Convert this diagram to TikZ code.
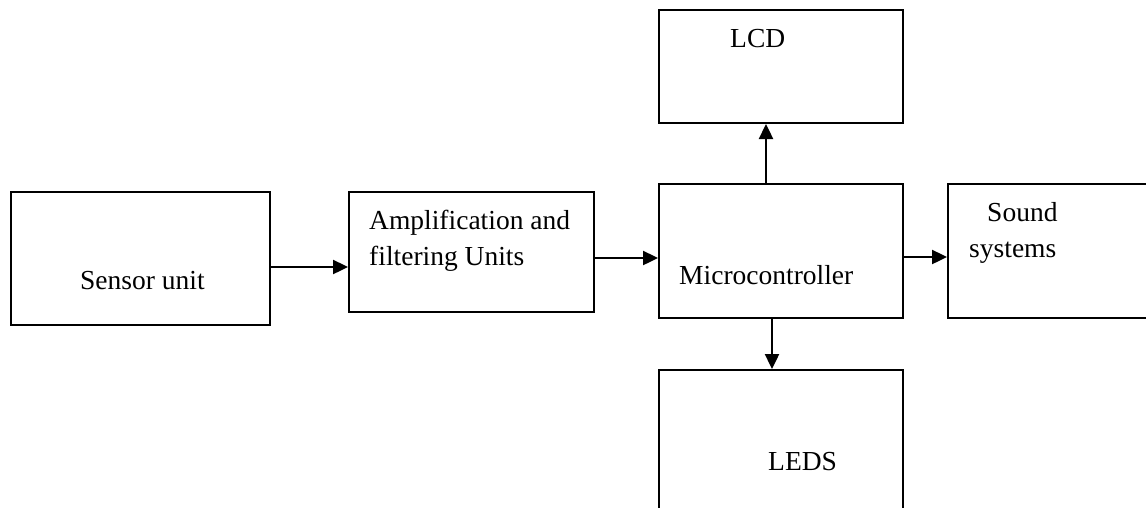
\documentclass[tikz,border=0pt]{standalone}
\usepackage{fontspec}
\setmainfont{Liberation Serif}
\usetikzlibrary{arrows.meta}
\begin{document}
\begin{tikzpicture}[x=1pt,y=-1pt,
  box/.style={draw=black, line width=2pt, rectangle, inner sep=0pt, fill=white},
  lbl/.style={anchor=base west, inner sep=0pt, font=\fontsize{27.5}{36}\selectfont},
  arr/.style={line width=2.4pt, -{Triangle[length=15pt,width=14pt]}}]
\clip (0,0) rectangle (1146,507);
\fill[white] (0,0) rectangle (1146,507);
% boxes
\node[box, minimum width=259pt, minimum height=133pt] (sensor) at (140.5,258.5) {};
\node[box, minimum width=245pt, minimum height=120pt] (amp) at (471.5,252) {};
\node[box, minimum width=244pt, minimum height=134pt] (micro) at (781,251) {};
\node[box, minimum width=244pt, minimum height=113pt] (lcd) at (781,66.5) {};
\node[box, minimum width=212pt, minimum height=134pt] (sound) at (1054,251) {};
\node[box, minimum width=244pt, minimum height=150pt] (leds) at (781,445) {};
% texts
\node[lbl] (tsensor) at (80,289) {Sensor unit};
\node[lbl] (tamp1) at (369,229) {Amplification and};
\node[lbl] (tamp2) at (369,265) {filtering Units};
\node[lbl] (tmicro) at (679,284) {Microcontroller};
\node[lbl] (tlcd) at (730,47) {LCD};
\node[lbl] (tsound1) at (987,221) {Sound};
\node[lbl] (tsound2) at (969,257) {systems};
\node[lbl] (tleds) at (768,470) {LEDS};
% connectors
\draw[arr] (sensor.east |- 0,267) -- (amp.west |- 0,267);
\draw[arr] (amp.east |- 0,258) -- (micro.west |- 0,258);
\draw[arr] (micro.east |- 0,257) -- (sound.west |- 0,257);
\draw[arr] (micro.north -| 766,0) -- (lcd.south -| 766,0);
\draw[arr] (micro.south -| 772,0) -- (leds.north -| 772,0);
\end{tikzpicture}
\end{document}
